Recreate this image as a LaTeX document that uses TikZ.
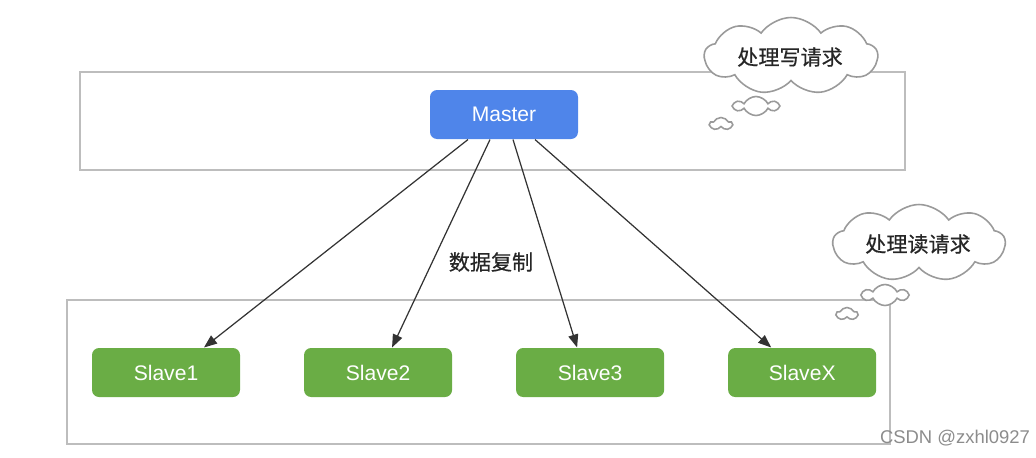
\documentclass[tikz,border=0pt]{standalone}
\usepackage{fontspec}
\setmainfont{Liberation Sans}
\newfontfamily\cjk[FakeBold=0.6]{Noto Sans CJK SC}
\usetikzlibrary{arrows.meta, positioning, shapes.symbols}
\definecolor{cblue}{HTML}{4F85EA}
\definecolor{cgreen}{HTML}{6AAD45}
\definecolor{cframe}{HTML}{BDBDBD}
\definecolor{cline}{HTML}{333333}
\definecolor{ccloud}{HTML}{9A9A9A}
\tikzset{
  every picture/.style={line width=0.6pt},
  box/.style={fill=#1, draw=none, rounded corners=4pt, text=white, minimum width=2.96cm, minimum height=0.98cm, font=\fontsize{12}{14}\selectfont},
  box/.default=cgreen,
  arrow/.style={-{Triangle[length=2.6mm, width=2mm]}, draw=cline, line width=0.7pt},
  frame/.style={draw=cframe, line width=0.9pt},
  thought/.style={cloud, cloud puffs=#1, cloud puff arc=110, cloud ignores aspect, draw=ccloud, fill=white, line width=0.9pt, inner sep=0pt},
  thought/.default=9,
  puff/.style={cloud, cloud puffs=#1, cloud puff arc=125, cloud ignores aspect, draw=ccloud, fill=white, line width=0.9pt, inner sep=0pt},
  puff/.default=6,
  note/.style={font=\cjk\fontsize{12}{14}\selectfont, text=black!85},
}

\begin{document}
\begin{tikzpicture}
  \useasboundingbox (0, 0) rectangle (20.72, -9.14);
  \draw[frame] (1.6, -1.44) rectangle (18.1, -3.4);
  \draw[frame] (1.34, -6.0) rectangle (17.8, -8.88);
  \node[box=cblue] (m) at (10.08, -2.29) {Master};
  \node[box] (s1) at (3.32, -7.45) {Slave1};
  \node[box, right=1.26cm of s1] (s2) {Slave2};
  \node[box, right=1.26cm of s2] (s3) {Slave3};
  \node[box, right=1.26cm of s3] (sx) {SlaveX};
  \draw[arrow] ([xshift=-0.72cm]m.south) -- ([xshift=0.76cm]s1.north);
  \draw[arrow] ([xshift=-0.28cm]m.south) -- ([xshift=0.28cm]s2.north);
  \draw[arrow] ([xshift=0.18cm]m.south) -- ([xshift=-0.26cm]s3.north);
  \draw[arrow] ([xshift=0.62cm]m.south) -- ([xshift=-0.62cm]sx.north);
  \node[note] (copy) at (9.82, -5.24) {数据复制};
  % thought clouds
  \node[thought, minimum width=3.46cm, minimum height=1.54cm] (w) at (15.82, -1.12) {};
  \node[note] (wt) at (15.8, -1.14) {处理写请求};
  \node[puff, minimum width=0.86cm, minimum height=0.38cm] (w1) at (15.12, -2.12) {};
  \node[puff=5, minimum width=0.44cm, minimum height=0.26cm] (w2) at (14.42, -2.48) {};
  \node[thought, minimum width=3.44cm, minimum height=1.54cm] (r) at (18.38, -4.86) {};
  \node[note] (rt) at (18.36, -4.88) {处理读请求};
  \node[puff, minimum width=0.88cm, minimum height=0.42cm] (r1) at (17.7, -5.9) {};
  \node[puff=5, minimum width=0.42cm, minimum height=0.26cm] (r2) at (16.94, -6.28) {};
  \node[text=black!45, font=\fontsize{10.5}{12}\selectfont] (mark) at (19.1, -8.76) {CSDN @zxhl0927};
\end{tikzpicture}
\end{document}
